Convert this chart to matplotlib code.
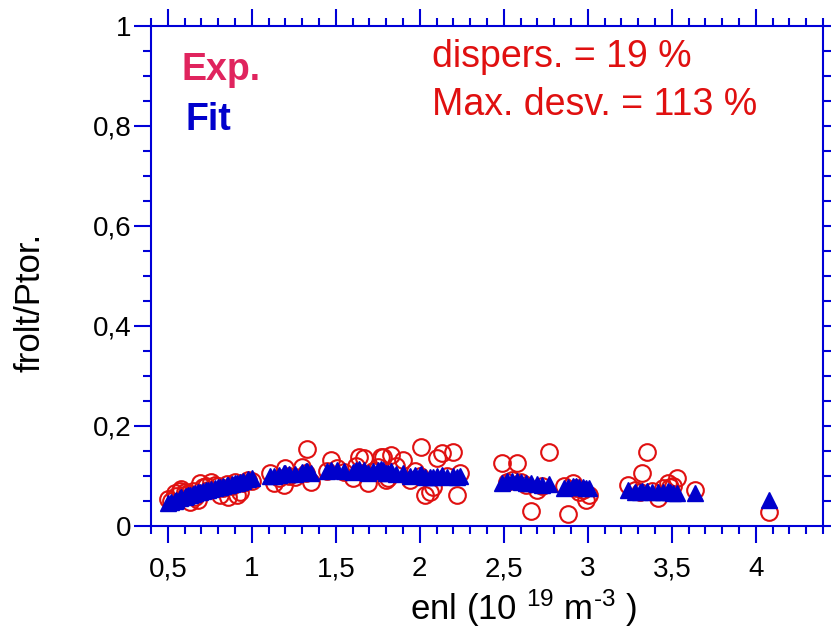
import matplotlib
matplotlib.use('Agg')
import matplotlib.pyplot as plt
from matplotlib.ticker import MultipleLocator, FuncFormatter

plt.rcParams['font.family'] = ['Liberation Sans', 'DejaVu Sans']
plt.rcParams['mathtext.fontset'] = 'custom'
plt.rcParams['mathtext.rm'] = 'Liberation Sans'
plt.rcParams['mathtext.it'] = 'Liberation Sans'
plt.rcParams['mathtext.default'] = 'regular'

# density (10^19 m^-3), experimental and fitted frolt/Ptor
enl = [0.50, 0.52, 0.54, 0.55, 0.57, 0.58, 0.60, 0.61, 0.62, 0.63, 0.65, 0.66, 0.68, 0.69, 0.71, 0.73,
       0.74, 0.76, 0.78, 0.80, 0.81, 0.83, 0.85, 0.86, 0.88, 0.90, 0.91, 0.93, 0.95, 0.98, 1.00,
       1.11, 1.13, 1.16, 1.19, 1.20, 1.22, 1.26, 1.30, 1.32, 1.33, 1.35,
       1.45, 1.47, 1.51, 1.55, 1.60, 1.62, 1.64, 1.67, 1.69, 1.72, 1.75, 1.77, 1.78, 1.80, 1.81, 1.83,
       1.86, 1.90, 1.94, 1.97, 2.00, 2.01, 2.03, 2.06, 2.08, 2.10, 2.13, 2.16, 2.20, 2.22, 2.24,
       2.49, 2.52, 2.55, 2.58, 2.60, 2.63, 2.66, 2.70, 2.73, 2.77,
       2.86, 2.88, 2.91, 2.93, 2.95, 2.97, 2.99, 3.01,
       3.24, 3.28, 3.31, 3.32, 3.35, 3.38, 3.42, 3.45, 3.48, 3.49, 3.51, 3.53, 3.64,
       4.08]
exp = [0.053, 0.050, 0.065, 0.060, 0.070, 0.073, 0.068, 0.062, 0.065, 0.047, 0.070, 0.058, 0.051, 0.085, 0.078, 0.080,
       0.072, 0.087, 0.082, 0.079, 0.061, 0.075, 0.083, 0.057, 0.080, 0.088, 0.061, 0.067, 0.085, 0.091, 0.090,
       0.105, 0.085, 0.095, 0.081, 0.115, 0.100, 0.098, 0.117, 0.105, 0.153, 0.087,
       0.110, 0.131, 0.115, 0.108, 0.095, 0.120, 0.137, 0.135, 0.085, 0.110, 0.118, 0.137, 0.137, 0.091, 0.095, 0.141,
       0.120, 0.131, 0.091, 0.110, 0.100, 0.157, 0.061, 0.067, 0.077, 0.135, 0.145, 0.100, 0.147, 0.061, 0.105,
       0.125, 0.088, 0.092, 0.125, 0.088, 0.081, 0.029, 0.071, 0.080, 0.147,
       0.080, 0.023, 0.085, 0.076, 0.067, 0.072, 0.051, 0.061,
       0.081, 0.072, 0.068, 0.105, 0.147, 0.070, 0.055, 0.075, 0.085, 0.077, 0.080, 0.095, 0.071,
       0.027]
fit = [0.045, 0.047, 0.050, 0.052, 0.055, 0.057, 0.058, 0.060, 0.061, 0.062, 0.064, 0.065, 0.067, 0.068, 0.070, 0.072,
       0.072, 0.074, 0.076, 0.077, 0.078, 0.080, 0.081, 0.082, 0.084, 0.085, 0.086, 0.088, 0.089, 0.093, 0.095,
       0.099, 0.100, 0.102, 0.105, 0.106, 0.104, 0.103, 0.108, 0.110, 0.110, 0.105,
       0.110, 0.112, 0.112, 0.110, 0.108, 0.112, 0.113, 0.112, 0.106, 0.110, 0.112, 0.113, 0.112, 0.105, 0.106, 0.110,
       0.104, 0.106, 0.100, 0.102, 0.101, 0.103, 0.098, 0.097, 0.098, 0.100, 0.102, 0.098, 0.100, 0.097, 0.099,
       0.085, 0.090, 0.089, 0.090, 0.087, 0.086, 0.085, 0.083, 0.082, 0.083,
       0.076, 0.078, 0.080, 0.079, 0.077, 0.078, 0.076, 0.075,
       0.072, 0.068, 0.067, 0.069, 0.070, 0.068, 0.067, 0.068, 0.070, 0.068, 0.066, 0.065, 0.066,
       0.051]

blue = '#0000d8'
red = '#e01010'

fig = plt.figure(figsize=(8.31, 6.33), dpi=100)
ax = fig.add_axes([151/831, 1 - 525.5/633, 672/831, 499.5/633])

ax.plot(enl, exp, 'o', ms=12, mfc='none', mec=red, mew=1.5, zorder=3)
ax.plot(enl, fit, '^', ms=11, color='#0000cc', mec='#0000cc', zorder=4)

ax.set_xlim(0.4, 4.4)
ax.set_ylim(0, 1)
ax.xaxis.set_major_locator(MultipleLocator(0.5))
ax.xaxis.set_minor_locator(MultipleLocator(0.1))
ax.yaxis.set_major_locator(MultipleLocator(0.2))
ax.yaxis.set_minor_locator(MultipleLocator(0.05))

def comma(v, pos):
    s = ('%.1f' % v).rstrip('0').rstrip('.')
    return s.replace('.', ',')

ax.xaxis.set_major_formatter(FuncFormatter(comma))
ax.yaxis.set_major_formatter(FuncFormatter(comma))
ax.set_xticks([0.5, 1, 1.5, 2, 2.5, 3, 3.5, 4])

for sp in ax.spines.values():
    sp.set_color(blue)
    sp.set_linewidth(1.5)
ax.tick_params(which='both', direction='out', top=True, right=True, color=blue, width=1.5, labelsize=20)
ax.tick_params(which='major', length=12)
ax.tick_params(which='minor', length=6)
ax.tick_params(axis='x', which='major', pad=10)
ax.tick_params(axis='y', which='major', pad=2)

ax.set_xlabel('enl (10 $^{19}$ m$^{\u20103}$ )', fontsize=25, va='baseline')
ax.xaxis.set_label_coords(0.554, -0.189)
ax.set_ylabel('frolt/Ptor.', fontsize=25, va='center', ha='center')
ax.yaxis.set_label_coords(-0.18, 0.447)

ax.text(0.045, 0.892, 'Exp.', transform=ax.transAxes, fontsize=27, fontweight='bold', color='#e0245e', va='baseline')
ax.text(0.052, 0.792, 'Fit', transform=ax.transAxes, fontsize=27, fontweight='bold', color='#0000cc', va='baseline')
ax.text(0.418, 0.918, 'dispers. = 19 %', transform=ax.transAxes, fontsize=27, color=red, va='baseline')
ax.text(0.418, 0.822, 'Max. desv. = 113 %', transform=ax.transAxes, fontsize=27, color=red, va='baseline')

plt.savefig('out.png', dpi=100)
